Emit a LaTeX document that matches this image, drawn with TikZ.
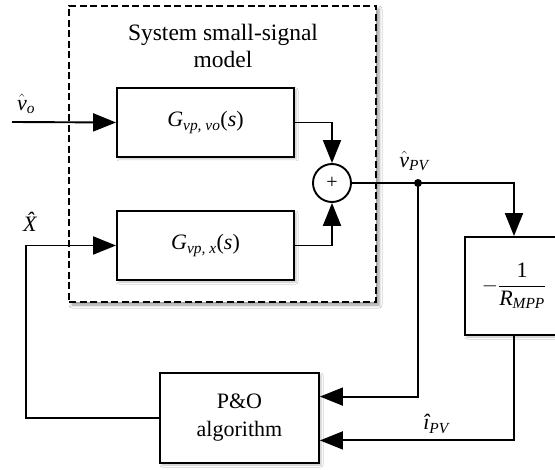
\documentclass[tikz,border=0pt]{standalone}
\usepackage{amsmath}
\usepackage{fontspec}
\setmainfont{Liberation Serif}
\usetikzlibrary{arrows.meta,shadows.blur,calc}
\begin{document}
\begin{tikzpicture}[x=1pt,y=-1pt,
  txt/.style={font=\fontsize{22}{28}\selectfont, text=black},
  blk/.style={draw, line width=1.9pt, fill=white, inner sep=0pt, txt,
    blur shadow={shadow xshift=2pt, shadow yshift=-2pt, shadow blur radius=2pt, shadow opacity=25}},
  conn/.style={line width=1.9pt},
  arr/.style={conn, -{Triangle[length=23pt,width=18pt]}},
  lbl/.style={txt, inner sep=0pt}
]
\path[use as bounding box, clip] (0,0) rectangle (555,470);
\fill[white] (0,0) rectangle (555,470);

% dashed frame
\node[draw, line width=1.9pt, dash pattern=on 7pt off 3.5pt, fill=white,
  minimum width=307pt, minimum height=296pt, inner sep=0pt,
  blur shadow={shadow xshift=3pt, shadow yshift=-3pt, shadow blur radius=3pt, shadow opacity=40}]
  (frame) at (222.5,154) {};
\node[txt, font=\fontsize{23.5}{27}\selectfont, align=center, anchor=north] (title) at (223,21) {System small-signal\\model};

% blocks
\node[blk, minimum width=177pt, minimum height=69pt] (gvo) at (205.5,122.5)
  {$\textit{G}_{\textit{vp, vo}}\text{(}\textit{s}\text{)}$};
\node[blk, minimum width=177pt, minimum height=69pt] (gx) at (205.5,245.5)
  {$\textit{G}_{\textit{vp, x}}\text{(}\textit{s}\text{)}$};
\node[draw, circle, line width=1.9pt, fill=white, minimum size=38pt, inner sep=0pt,
  font=\fontsize{20}{20}\selectfont] (sum) at (332,183) {+};
\node[blk, minimum width=98pt, minimum height=98pt] (R) at (514,286)
  {$-\dfrac{\text{1}}{\textit{R}_{\textit{MPP}}}$};
\node[blk, minimum width=159pt, minimum height=90pt, align=center] (po) at (239.5,418)
  {P\&O\\algorithm};

% coordinates
\coordinate (vin) at (12,122);
\coordinate (jn) at (418,183);
\coordinate (fb) at (26,418);
\coordinate (poa) at ($(po.north east)!0.267!(po.south east)$);
\coordinate (pob) at ($(po.north east)!0.744!(po.south east)$);

% connectors
\draw[arr] (vin) -- (gvo.west);
\draw[arr] (gvo.east) -| (sum.north);
\draw[arr] (gx.east) -| (sum.south);
\draw[conn] (sum.east) -- (jn);
\draw[arr] (jn) -| (R.north);
\draw[arr] (jn) |- (poa);
\draw[arr] (R.south) |- (pob);
\draw[arr] (po.west) -- (fb) |- (gx.west);
\fill (jn) circle (4pt);

% labels
\node[lbl] (lvo) at (26,104) {$\hat{\textit{v}}_{\textit{o}}$};
\node[lbl] (lx) at (34,222) {\textit{\^{X}}};
\node[lbl] (lvpv) at (414,161) {$\hat{\textit{v}}_{\textit{PV}}$};
\node[lbl] (lipv) at (436,424) {$\textit{\^{\i}}_{\textit{PV}}$};
\end{tikzpicture}
\end{document}
